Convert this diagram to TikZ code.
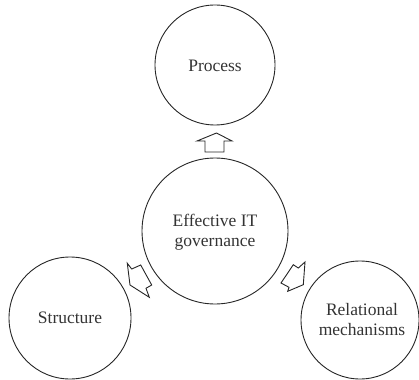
\documentclass[tikz,border=0pt]{standalone}
\usepackage{fontspec}
\setmainfont{Liberation Serif}
\begin{document}
\begin{tikzpicture}[x=1pt,y=-1pt,
  ring/.style={draw=black!85,line width=0.9pt,circle,inner sep=0pt},
  lbl/.style={font=\fontsize{17.5}{20}\selectfont,align=center,text=black!80},
  blockarrow/.style={draw=black!85,line width=0.9pt,line join=miter,fill=white}]
\useasboundingbox (0,0) rectangle (419,379);
\node[ring,minimum size=120] (process) at (215,65) {};
\node[lbl] (processtxt) at (215,66) {Process};
\node[ring,minimum size=146] (center) at (215,231) {};
\node[lbl] (centertxt) at (215,232) {Effective IT\\governance};
\node[ring,minimum size=122] (structure) at (70,318) {};
\node[lbl] (structuretxt) at (70,318) {Structure};
\node[ring,minimum size=118] (relational) at (360,320) {};
\node[lbl] (relationaltxt) at (362,320) {Relational\\mechanisms};
% up arrow
\draw[blockarrow] (216.5,133) -- (232,141) -- (224,141) -- (224,152) -- (205,152) -- (205,141) -- (197,141) -- cycle;
% left arrow
\draw[blockarrow] (127.3,263.3) -- (131.7,269) -- (140.7,265) -- (151.7,285) -- (146,288.3) -- (149.3,297.3) -- (130,285) -- cycle;
% right arrow
\draw[blockarrow] (293.3,264.7) -- (298.3,268) -- (305,262) -- (303.3,284.7) -- (287.7,291.3) -- (289,287.3) -- (281,283) -- cycle;
\end{tikzpicture}
\end{document}
